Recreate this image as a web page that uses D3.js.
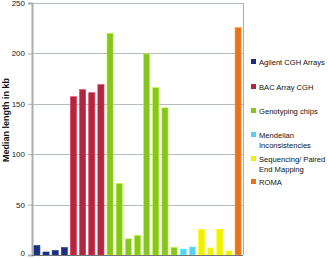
<!DOCTYPE html>
<html>
<head>
<meta charset="utf-8">
<script src="https://cdn.jsdelivr.net/npm/d3@7"></script>
<style>
  body { margin: 0; background: #fff; }
  text { font-family: "Liberation Sans", Arial, sans-serif; }
</style>
</head>
<body>
<script>
var w = 328;
var h = 258;

var groups = ["Agilent CGH Arrays", "BAC Array CGH", "Genotyping chips",
  "Mendelian Inconsistencies", "Sequencing/ Paired End Mapping", "ROMA"];
var legendLines = [["Agilent CGH Arrays"], ["BAC Array CGH"], ["Genotyping chips"],
  ["Mendelian", "Inconsistencies"], ["Sequencing/ Paired", "End Mapping"], ["ROMA"]];
var colors = ["#1b2f7d", "#b0283f", "#86c51f", "#58d0f5", "#eef00a", "#e5741f"];

var agilent = [9.5, 3, 4.5, 7.5];
var bac = [157, 164, 161, 169];
var genotyping = [220, 71, 16, 19.5, 199.5, 166, 146, 7.5];
var mendelian = [6, 8];
var sequencing = [25.5, 7, 25.5, 4];
var roma = [225.5];
var yTicks = [0, 50, 100, 150, 200, 250];

var series = [agilent, bac, genotyping, mendelian, sequencing, roma];
var bars = [];
series.forEach(function (s, g) {
  s.forEach(function (v) { bars.push({ g: g, v: v, i: bars.length }); });
});

var plotLeft = 32, plotRight = 243, plotTop = 3, plotBottom = 255;

var svg = d3.select("body").append("svg")
  .attr("width", w)
  .attr("height", h);

var x = d3.scaleBand()
  .domain(bars.map(function (d) { return d.i; }))
  .range([plotLeft, plotRight])
  .paddingInner(0.33)
  .paddingOuter(0.2);

var y = d3.scaleLinear().domain([0, 250]).range([plotBottom, plotTop]);

// gridlines
svg.selectAll("line.grid")
  .data(yTicks.slice(1))
  .enter()
  .append("line")
  .attr("class", "grid")
  .attr("x1", plotLeft)
  .attr("x2", plotRight)
  .attr("y1", function (d) { return Math.round(y(d)) + 0.5; })
  .attr("y2", function (d) { return Math.round(y(d)) + 0.5; })
  .attr("stroke", "#b4bcbc")
  .attr("stroke-width", 1);

// right border
svg.append("line")
  .attr("x1", plotRight + 0.5).attr("x2", plotRight + 0.5)
  .attr("y1", plotTop).attr("y2", plotBottom)
  .attr("stroke", "#a8acac");

// bars
svg.selectAll("rect.bar")
  .data(bars)
  .enter()
  .append("rect")
  .attr("class", "bar")
  .attr("x", function (d) { return x(d.i); })
  .attr("y", function (d) { return y(d.v); })
  .attr("width", x.bandwidth())
  .attr("height", function (d) { return y(0) - y(d.v); })
  .attr("fill", function (d) { return colors[d.g]; })
  .attr("stroke", function (d) { return d3.color(colors[d.g]).brighter(0.8); })
  .attr("stroke-width", 0.6);

// y axis
var yAxis = d3.axisLeft(y).tickValues(yTicks).tickSize(4).tickPadding(3);
var ga = svg.append("g")
  .attr("transform", "translate(" + plotLeft + ",0)")
  .call(yAxis);
ga.select(".domain").attr("stroke", "#a9adad").attr("stroke-width", 2);
ga.selectAll(".tick line").attr("stroke", "#a9adad");
ga.selectAll(".tick text")
  .attr("font-size", 8)
  .attr("fill", "#222")
  .attr("dy", function (d) { return d === 0 ? "0.1em" : "0.32em"; })
  .style("font-family", "'Liberation Sans', Arial, sans-serif");

// x baseline
svg.append("line")
  .attr("x1", plotLeft).attr("x2", plotRight)
  .attr("y1", plotBottom + 0.5).attr("y2", plotBottom + 0.5)
  .attr("stroke", "#6f7373")
  .attr("stroke-width", 1.2);

// y label
svg.append("text")
  .attr("transform", "translate(9,120) rotate(-90)")
  .attr("text-anchor", "middle")
  .attr("font-size", 9)
  .attr("font-weight", "bold")
  .attr("fill", "#111")
  .text("Median length in kb");

// legend
var legendY = [63, 88, 112, 136, 160, 183];
var lg = svg.selectAll("g.legend")
  .data(legendLines)
  .enter()
  .append("g")
  .attr("class", "legend")
  .attr("transform", function (d, i) { return "translate(251," + legendY[i] + ")"; });

lg.append("rect")
  .attr("x", 0)
  .attr("y", -4)
  .attr("width", 5)
  .attr("height", 5)
  .attr("fill", function (d, i) { return colors[i]; });

lg.append("text")
  .attr("x", 8)
  .attr("y", 1.5)
  .attr("font-size", 7.6)
  .attr("fill", "#111")
  .selectAll("tspan")
  .data(function (d) { return d; })
  .enter()
  .append("tspan")
  .attr("x", 8)
  .attr("dy", function (d, i) { return i === 0 ? 0 : 10.5; })
  .text(function (d) { return d; });
</script>
</body>
</html>
